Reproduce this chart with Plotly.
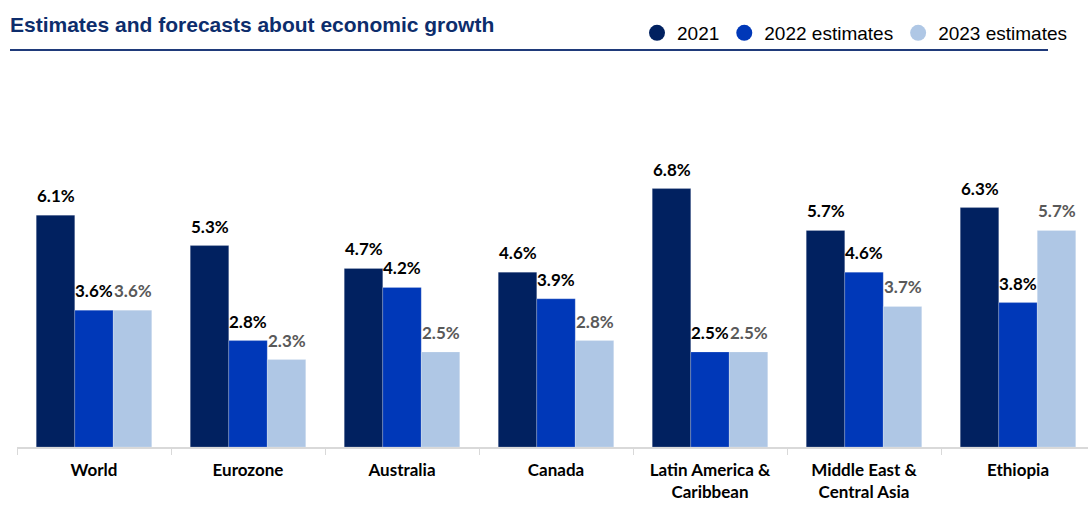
import plotly.graph_objects as go

categories = ["World", "Eurozone", "Australia", "Canada", "Latin America &<br>Caribbean",
              "Middle East &<br>Central Asia", "Ethiopia"]
series_names = ["2021", "2022 estimates", "2023 estimates"]
v2021 = [6.1, 5.3, 4.7, 4.6, 6.8, 5.7, 6.3]
v2022 = [3.6, 2.8, 4.2, 3.9, 2.5, 4.6, 3.8]
v2023 = [3.6, 2.3, 2.5, 2.8, 2.5, 3.7, 5.7]

colors = ["#012160", "#0038B8", "#AFC7E5"]
label_colors = ["#000000", "#000000", "#595959"]

W, H = 1088, 505
left, right, top, bottom = 17, 0, 80, 58
px_per_unit = 38.0
ymax = (H - top - bottom) / px_per_unit
bar_px = 154 / 4.0

fig = go.Figure()
for i, (name, vals, col, lc) in enumerate(zip(series_names, [v2021, v2022, v2023], colors, label_colors)):
    fig.add_trace(go.Bar(
        x=categories, y=vals, name=name, showlegend=False,
        marker=dict(color=col, line=dict(color="rgba(255,255,255,0.4)", width=0.5)),
    ))
    fig.add_trace(go.Scatter(
        x=[None], y=[None], mode="markers", name=name,
        marker=dict(color=col, size=16, symbol="circle"),
    ))
    for c, v in zip(categories, vals):
        fig.add_annotation(x=c, y=v, xref="x", yref="y", text=f"<b>{v:.1f}%</b>",
                           showarrow=False, xanchor="center", yanchor="bottom",
                           xshift=(i - 1) * bar_px, yshift=7,
                           font=dict(family="Lato", size=17, color=lc))

plot_w = W - left - right
fig.update_layout(
    width=W, height=H,
    margin=dict(l=left, r=right, t=top, b=bottom, autoexpand=False),
    plot_bgcolor="white", paper_bgcolor="white",
    barmode="group", bargap=0.25, bargroupgap=0,
    title=dict(text="<b>Estimates and forecasts about economic growth</b>",
               x=10 / W, xanchor="left", xref="container",
               y=1 - 25 / H, yanchor="middle", yref="container",
               font=dict(family="Liberation Sans, Arial", size=21, color="#0D2D6C")),
    legend=dict(orientation="h", xref="container", yref="container",
                x=1 - 16 / W, xanchor="right", y=1 - 33 / H, yanchor="middle",
                font=dict(family="Liberation Sans, Arial", size=19, color="#000000"),
                itemsizing="trace", traceorder="normal", bgcolor="rgba(0,0,0,0)"),
    xaxis=dict(type="category", range=[-0.5, 6.5 - 7 / 154], automargin=False,
               showline=True, linecolor="#D9D9D9", linewidth=1.5,
               ticks="outside", tickson="boundaries", tickcolor="#D9D9D9", ticklen=6,
               ticklabelstandoff=7,
               tickfont=dict(family="Lato", size=17, color="#000000", weight="bold"),
               showgrid=False),
    yaxis=dict(range=[0, ymax], visible=False, showgrid=False, zeroline=False,
               automargin=False),
    showlegend=True,
)

fig.add_shape(type="line", xref="paper", yref="paper",
              x0=(10 - left) / plot_w, x1=(1048 - left) / plot_w,
              y0=(H - bottom - 50) / (H - top - bottom), y1=(H - bottom - 50) / (H - top - bottom),
              line=dict(color="#1F3A7A", width=2))

fig.write_html("out.html")
